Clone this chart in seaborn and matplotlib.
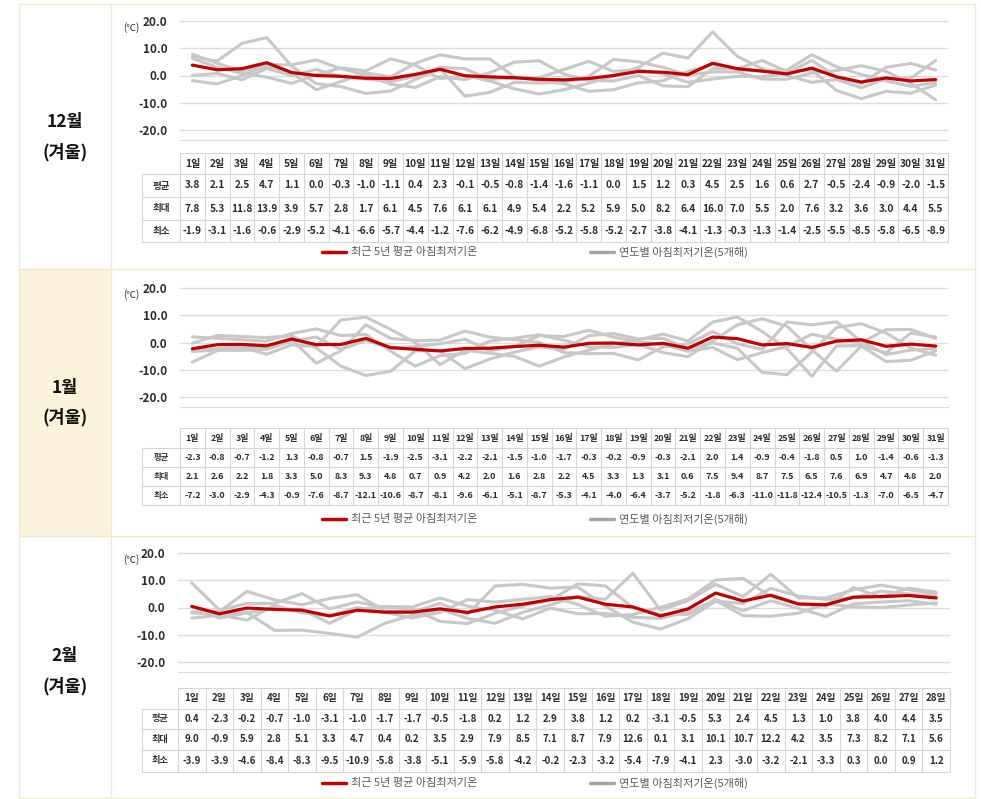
import matplotlib
matplotlib.use('Agg')
import matplotlib.pyplot as plt
from matplotlib.patches import Rectangle
import seaborn as sns
import numpy as np

sns.set_style('white')
plt.rcParams['font.family'] = ['Noto Sans CJK KR', 'DejaVu Sans']

# ---------------- DATA ----------------
dec_days = [f"{d}일" for d in range(1, 32)]
dec_avg = [3.8, 2.1, 2.5, 4.7, 1.1, 0.0, -0.3, -1.0, -1.1, 0.4, 2.3, -0.1, -0.5, -0.8, -1.4, -1.6,
           -1.1, 0.0, 1.5, 1.2, 0.3, 4.5, 2.5, 1.6, 0.6, 2.7, -0.5, -2.4, -0.9, -2.0, -1.5]
dec_max = [7.8, 5.3, 11.8, 13.9, 3.9, 5.7, 2.8, 1.7, 6.1, 4.5, 7.6, 6.1, 6.1, 4.9, 5.4, 2.2,
           5.2, 5.9, 5.0, 8.2, 6.4, 16.0, 7.0, 5.5, 2.0, 7.6, 3.2, 3.6, 3.0, 4.4, 5.5]
dec_min = [-1.9, -3.1, -1.6, -0.6, -2.9, -5.2, -4.1, -6.6, -5.7, -4.4, -1.2, -7.6, -6.2, -4.9, -6.8, -5.2,
           -5.8, -5.2, -2.7, -3.8, -4.1, -1.3, -0.3, -1.3, -1.4, -2.5, -5.5, -8.5, -5.8, -6.5, -8.9]
dec_y1 = [6.8, 5.3, 11.8, 13.9, 3.5, -3.0, -4.1, -6.6, -5.7, -1.5, 2.5, -7.6, -6.2, -2.5, -2.8, -2.5,
          -0.3, 5.9, 5.0, 3.0, 0.2, 1.3, 1.3, -1.3, -1.4, 0.9, 1.8, 3.6, 1.5, -2.9, -8.9]
dec_y2 = [7.8, 4.5, 1.5, 4.0, 3.9, 5.7, 2.5, 0.2, -3.2, -4.4, -0.4, -1.5, 1.0, 4.9, 5.4, 0.5,
          -1.8, -2.0, 0.0, -3.8, -4.1, 2.5, 2.5, 5.5, 1.5, 2.0, -5.5, -8.5, -5.8, -6.5, -3.5]
dec_y3 = [6.3, 3.0, 0.8, -0.6, -2.9, 0.3, 2.8, 1.7, 6.1, 3.8, -1.2, 0.0, -2.0, -4.9, -6.8, -5.2,
          -2.8, -0.2, 3.0, 8.2, 6.4, 16.0, 7.0, 2.5, 0.0, -2.5, -1.5, -4.5, -1.2, -1.0, 5.5]
dec_y4 = [-1.9, -3.1, 0.0, 3.6, 1.0, -5.2, -2.2, 1.0, -0.5, 4.5, 7.6, 6.1, 6.1, -0.5, -2.0, -3.0,
          -5.8, -5.2, -2.7, -1.9, 1.5, 4.0, 2.0, 1.8, 2.0, 7.6, 3.2, 0.4, -2.0, -4.0, -2.6]
dec_y5 = [0.0, 0.8, -1.6, 2.6, 0.0, 2.2, -0.5, -1.3, -2.2, -0.4, 3.0, 2.5, -1.4, -1.0, -0.8, 2.2,
          5.2, 1.5, 2.2, 0.5, -2.5, -1.3, -0.3, -0.5, 0.9, 5.5, -0.5, -3.0, 3.0, 4.4, 2.0]

jan_days = [f"{d}일" for d in range(1, 32)]
jan_avg = [-2.3, -0.8, -0.7, -1.2, 1.3, -0.8, -0.7, 1.5, -1.9, -2.5, -3.1, -2.2, -2.1, -1.5, -1.0, -1.7,
           -0.3, -0.2, -0.9, -0.3, -2.1, 2.0, 1.4, -0.9, -0.4, -1.8, 0.5, 1.0, -1.4, -0.6, -1.3]
jan_max = [2.1, 2.6, 2.2, 1.8, 3.3, 5.0, 8.3, 9.3, 4.8, 0.7, 0.9, 4.2, 2.0, 1.6, 2.8, 2.2,
           4.5, 3.3, 1.3, 3.1, 0.6, 7.5, 9.4, 8.7, 7.5, 6.5, 7.6, 6.9, 4.7, 4.8, 2.0]
jan_min = [-7.2, -3.0, -2.9, -4.3, -0.9, -7.6, -8.7, -12.1, -10.6, -8.7, -8.1, -9.6, -6.1, -5.1, -8.7, -5.3,
           -4.1, -4.0, -6.4, -3.7, -5.2, -1.8, -6.3, -11.0, -11.8, -12.4, -10.5, -1.3, -7.0, -6.5, -4.7]
jan_y1 = [-0.3, 2.6, 2.2, 1.8, 2.5, -2.0, -8.7, -12.1, -10.6, -3.0, -3.0, -9.6, -6.1, -3.5, -1.6, -2.5,
          2.5, 3.3, 1.3, 1.5, -2.2, -0.2, -2.1, -11.0, -11.8, -3.5, 5.5, 6.9, 3.5, -2.0, -4.7]
jan_y2 = [2.1, 1.5, 1.0, 0.5, 3.3, 5.0, 2.5, 3.0, -3.2, -8.7, -4.8, -4.0, 0.5, 1.6, 2.8, 0.8,
          -1.6, -1.8, -0.7, -3.7, -5.2, 0.5, 6.5, 8.7, 6.0, -2.6, -10.5, -1.3, -7.0, -6.5, -3.1]
jan_y3 = [-2.8, -2.3, -1.8, -4.3, -0.9, -1.4, 8.3, 9.3, 4.8, 0.0, -8.1, -2.8, -3.9, -5.1, -8.7, -5.3,
          -2.8, -0.5, 1.0, 3.1, 0.6, 7.5, 9.4, 4.0, -2.2, -12.4, -1.3, -1.1, -3.8, 3.5, 2.0]
jan_y4 = [-7.2, -3.0, -2.0, -1.5, 1.1, -7.6, -3.0, 6.5, 1.5, 0.7, 0.9, 4.2, 2.0, 1.0, 0.0, -3.7,
          -4.1, -4.0, -6.4, -1.6, -0.5, 4.0, -0.5, -2.5, 7.5, 6.5, 7.6, 0.5, -4.4, -2.8, -2.2]
jan_y5 = [-3.3, -2.8, -2.9, -2.5, 0.5, 2.0, -2.6, 0.8, -2.0, -1.5, -0.5, 1.2, -3.0, -1.5, 2.5, 2.2,
          4.5, 2.0, 0.3, -0.8, -3.2, -1.8, -6.3, -3.7, -1.5, 3.0, 1.2, 0.0, 4.7, 4.8, 1.5]

feb_days = [f"{d}일" for d in range(1, 29)]
feb_avg = [0.4, -2.3, -0.2, -0.7, -1.0, -3.1, -1.0, -1.7, -1.7, -0.5, -1.8, 0.2, 1.2, 2.9,
           3.8, 1.2, 0.2, -3.1, -0.5, 5.3, 2.4, 4.5, 1.3, 1.0, 3.8, 4.0, 4.4, 3.5]
feb_max = [9.0, -0.9, 5.9, 2.8, 5.1, 3.3, 4.7, 0.4, 0.2, 3.5, 2.9, 7.9, 8.5, 7.1,
           8.7, 7.9, 12.6, 0.1, 3.1, 10.1, 10.7, 12.2, 4.2, 3.5, 7.3, 8.2, 7.1, 5.6]
feb_min = [-3.9, -3.9, -4.6, -8.4, -8.3, -9.5, -10.9, -5.8, -3.8, -5.1, -5.9, -5.8, -4.2, -0.2,
           -2.3, -3.2, -5.4, -7.9, -4.1, 2.3, -3.0, -3.2, -2.1, -3.3, 0.3, 0.0, 0.9, 1.2]
feb_y1 = [-2.0, -2.4, -1.8, -8.4, -8.3, -9.5, -10.9, -5.8, -2.8, -0.6, -4.0, -5.8, -1.8, 1.0,
          4.0, 3.0, 12.6, -1.0, 2.5, 8.5, 4.0, 12.2, 3.5, 3.5, 6.5, 8.2, 6.5, 5.0]
feb_y2 = [9.0, -0.9, 1.5, 1.5, 5.1, -0.5, 2.0, 0.0, -0.5, -5.1, -5.9, -2.1, 0.5, 2.6,
          8.7, 7.9, 0.0, -2.7, -2.5, 3.0, -1.2, 2.5, -0.3, -3.3, 1.4, 2.0, 2.5, 1.2]
feb_y3 = [-1.6, -1.5, 5.9, 2.8, 1.0, 3.3, 4.7, -1.3, -1.6, 1.5, -2.5, 7.9, 8.5, 7.1,
          7.5, 0.5, -5.4, -7.9, -4.1, 2.3, 1.5, 7.0, 4.2, 3.0, 3.5, 6.0, 5.0, 4.0]
feb_y4 = [-3.9, -2.8, -4.6, 0.8, -2.0, -3.0, 0.0, -1.8, -3.8, -1.8, 2.9, 2.0, 3.0, 4.0,
          1.1, -3.2, -2.6, 0.1, 3.1, 10.1, 10.7, 4.0, 1.2, 0.5, 7.3, 3.8, 7.1, 5.6]
feb_y5 = [0.5, -3.9, -2.0, -0.2, -0.8, -5.8, -0.8, 0.4, 0.2, 3.5, 0.5, -1.0, -4.2, -0.2,
          -2.3, -2.2, -3.6, -4.0, -1.5, 2.6, -3.0, -3.2, -2.1, 1.3, 0.3, 0.0, 0.9, 1.7]

row_labels = ["평균", "최대", "최소"]
legend_labels = ["최근 5년 평균 아침최저기온", "연도별 아침최저기온(5개해)"]
yticks = [-20, -10, 0, 10, 20]

# ---------------- STYLE / LAYOUT ----------------
RED = '#C00000'
GRAY = '#C8C8C8'
GRID = '#DDDDDD'
CREAM = '#FBF3DC'
BORDER = '#F3E8C8'
TXT = '#2B2B2B'

W, H = 981, 799
fig = plt.figure(figsize=(W / 100, H / 100), dpi=100)


def px_axes(x0, y0, x1, y1, **kw):
    return fig.add_axes([x0 / W, 1 - y1 / H, (x1 - x0) / W, (y1 - y0) / H], **kw)


bg = px_axes(0, 0, W, H, zorder=-10)
bg.set_xlim(0, W)
bg.set_ylim(H, 0)
bg.axis('off')
bg.add_patch(Rectangle((19, 269), 92, 267, facecolor=CREAM, edgecolor='none'))
for yb in [4, 269, 536, 798]:
    bg.plot([19, 975], [yb, yb], color=BORDER, lw=1)
for xb in [19, 111, 975]:
    bg.plot([xb, xb], [4, 798], color=BORDER, lw=1)

panels = [
    dict(label="12월", ly=(122, 152), days=dec_days, avg=dec_avg, mx=dec_max, mn=dec_min,
         years=[dec_y1, dec_y2, dec_y3, dec_y4, dec_y5], g20=21, gm20=130, xa=(180, 948),
         rows=[153, 174, 197, 220, 242], fs=7.3, leg=252),
    dict(label="1월", ly=(388, 417), days=jan_days, avg=jan_avg, mx=jan_max, mn=jan_min,
         years=[jan_y1, jan_y2, jan_y3, jan_y4, jan_y5], g20=288, gm20=397, xa=(180, 948),
         rows=[428, 448, 467, 486, 505], fs=6.4, leg=519),
    dict(label="2월", ly=(656, 686), days=feb_days, avg=feb_avg, mx=feb_max, mn=feb_min,
         years=[feb_y1, feb_y2, feb_y3, feb_y4, feb_y5], g20=553, gm20=662, xa=(178, 950),
         rows=[688, 709, 729, 750, 772], fs=7.0, leg=783),
]

for p in panels:
    # month label
    bg.text(65, p['ly'][0], p['label'], ha='center', va='center', fontsize=12.5,
            fontweight='bold', color='#111111')
    bg.text(65, p['ly'][1], "(겨울)", ha='center', va='center', fontsize=12.5,
            fontweight='bold', color='#111111')

    # chart
    x0, x1 = p['xa']
    ppu = (p['gm20'] - p['g20']) / 40.0
    ax = px_axes(x0, p['g20'] - 11, x1, p['gm20'] + 10)
    n = len(p['days'])
    xs = np.arange(n)
    for yv in p['years']:
        sns.lineplot(x=xs, y=yv, color=GRAY, lw=2.2, ax=ax, zorder=2)
    sns.lineplot(x=xs, y=p['avg'], color=RED, lw=2.3, ax=ax, zorder=3)
    ax.set_xlim(-0.5, n - 0.5)
    ax.set_ylim(-20 - 10 / ppu, 20 + 11 / ppu)
    ax.set_yticks(yticks)
    ax.set_yticklabels([f"{v:.1f}" for v in yticks], fontsize=8.5, fontweight='bold', color=TXT)
    ax.set_xticks([])
    ax.set_xlabel('')
    ax.set_ylabel('')
    ax.tick_params(axis='y', length=0, pad=9)
    for yv in yticks:
        ax.axhline(yv, color=GRID, lw=1, zorder=1)
    for s in ['top', 'left', 'right']:
        ax.spines[s].set_visible(False)
    ax.spines['bottom'].set_color(GRID)
    ax.patch.set_alpha(0)
    bg.text(131, p['g20'] + 7, "(℃)", ha='center', va='center', fontsize=7, color=TXT)

    # table
    rows = p['rows']
    cw = (x1 - x0) / n
    lab0 = 142
    tc = '#D6D6D6'
    bg.plot([x0, x1], [rows[0], rows[0]], color=tc, lw=0.8)
    for r in rows[1:]:
        bg.plot([lab0, x1], [r, r], color=tc, lw=0.8)
    bg.plot([lab0, lab0], [rows[1], rows[-1]], color=tc, lw=0.8)
    for i in range(n + 1):
        bg.plot([x0 + i * cw, x0 + i * cw], [rows[0], rows[-1]], color=tc, lw=0.8)
    for i, d in enumerate(p['days']):
        cx = x0 + (i + 0.5) * cw
        bg.text(cx, (rows[0] + rows[1]) / 2, d, ha='center', va='center',
                fontsize=p['fs'], fontweight='bold', color=TXT)
        for k, vals in enumerate([p['avg'], p['mx'], p['mn']]):
            bg.text(cx, (rows[k + 1] + rows[k + 2]) / 2, f"{vals[i]:.1f}", ha='center',
                    va='center', fontsize=p['fs'], fontweight='bold', color=TXT)
    for k, lab in enumerate(row_labels):
        bg.text((lab0 + x0) / 2, (rows[k + 1] + rows[k + 2]) / 2, lab, ha='center',
                va='center', fontsize=p['fs'] - 0.4, fontweight='bold', color='#333333')

    # legend
    ly = p['leg']
    bg.plot([322, 346], [ly, ly], color=RED, lw=2.5)
    bg.text(351, ly, legend_labels[0], ha='left', va='center', fontsize=8, color='#595959')
    bg.plot([590, 614], [ly, ly], color='#A6A6A6', lw=2.5)
    bg.text(619, ly, legend_labels[1], ha='left', va='center', fontsize=8, color='#595959')

fig.savefig('out.png', dpi=100)
